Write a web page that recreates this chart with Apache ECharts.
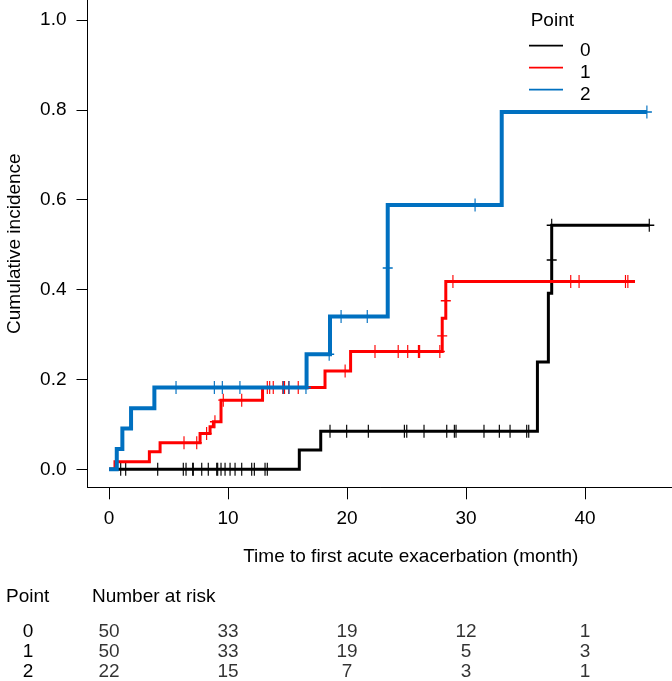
<!DOCTYPE html>
<html>
<head>
<meta charset="utf-8">
<script src="https://cdn.jsdelivr.net/npm/echarts@6/dist/echarts.min.js"></script>
<style>html,body{margin:0;padding:0;background:#fff}#c{width:672px;height:681px}</style>
</head>
<body>
<div id="c"></div>
<script>
// ---- data ----
const groupNames = ['0', '1', '2'];
const xTicks = [0, 10, 20, 30, 40];
const yTicks = [0, 0.2, 0.4, 0.6, 0.8, 1.0];

const steps0 = [[0,0],[15.99,0.043],[17.79,0.085],[36.0,0.239],[36.92,0.392],[37.2,0.543],[45.4,0.543]];
const steps1 = [[0,0],[0.5,0.017],[3.39,0.039],[4.29,0.059],[7.65,0.080],[8.49,0.095],[8.77,0.106],[9.41,0.154],[12.9,0.182],[18.15,0.219],[20.3,0.262],[28.0,0.336],[28.3,0.418],[44.2,0.418]];
const steps2 = [[0,0],[0.65,0.045],[1.12,0.091],[1.85,0.136],[3.81,0.182],[16.6,0.256],[18.57,0.340],[23.42,0.588],[33.0,0.795],[45.2,0.795]];

const cens0 = [[0.98,0],[1.40,0],[4.09,0],[6.24,0],[6.47,0],[7.03,0],[7.08,0],[7.79,0],[8.34,0],[9.05,0],[9.13,0],[9.41,0],[9.75,0],[10.17,0],[10.59,0],[11.15,0],[11.99,0],[12.21,0],[13.11,0],[13.30,0],
  [18.57,0.085],[19.97,0.085],[21.79,0.085],[24.82,0.085],[25.02,0.085],[26.47,0.085],[28.38,0.085],[29.02,0.085],[29.16,0.085],[31.51,0.085],[32.8,0.085],[33.7,0.085],[35.1,0.085],[35.27,0.085],
  [37.2,0.466],[37.2,0.543],[45.4,0.543]];
const cens1 = [[6.3,0.059],[7.37,0.059],[8.2,0.080],[8.9,0.106],[9.6,0.154],[11.15,0.154],[13.3,0.182],[13.5,0.182],[13.8,0.182],[14.6,0.182],[14.75,0.182],[15.1,0.182],[15.9,0.182],[19.84,0.219],
  [22.35,0.262],[24.3,0.262],[25.1,0.262],[26.0,0.262],[26.1,0.262],[27.8,0.262],[28.0,0.297],[28.3,0.375],[28.9,0.418],[38.8,0.418],[39.5,0.418],[43.4,0.418],[43.6,0.418]];
const cens2 = [[5.63,0.182],[8.85,0.182],[9.52,0.182],[11.0,0.182],[14.65,0.182],[15.13,0.182],[16.55,0.182],[18.5,0.256],[19.5,0.340],[21.7,0.340],[23.42,0.448],[30.76,0.588],[45.2,0.795]];

const riskTimes = [0, 10, 20, 30, 40];
const risk0 = [50, 33, 19, 12, 1];
const risk1 = [50, 33, 19, 5, 3];
const risk2 = [22, 15, 7, 3, 1];

// ---- styles ----
const FONT = '"Liberation Sans", Arial, Helvetica, sans-serif';
const FS = 19;
const colors = ['#000000', '#FF0000', '#0070C0'];
const widths = [3, 3, 4];
const allSteps = [steps0, steps1, steps2];
const allCens = [cens0, cens1, cens2];
const allRisk = [risk0, risk1, risk2];
const legendIcon = 'path://M0,0h0.01v0.01h-0.01zM0,5.1h34v1.8h-34zM33.99,21.99h0.01v0.01h-0.01z';

const series = [];
for (let g = 0; g < 3; g++) {
  series.push({
    name: groupNames[g], type: 'line', step: 'end', xAxisIndex: 0, yAxisIndex: 0,
    data: allSteps[g], symbol: 'none', showSymbol: false, animation: false,
    lineStyle: { color: colors[g], width: widths[g], cap: 'butt', join: 'miter' },
    itemStyle: { color: colors[g] }, z: 2 + g * 2, silent: true
  });
  series.push({
    name: 'cens' + g, type: 'scatter', xAxisIndex: 0, yAxisIndex: 0,
    data: allCens[g], symbol: 'path://M0,6L10,6M5,0L5,12', symbolSize: [10, 13],
    itemStyle: { color: 'rgba(0,0,0,0)', borderColor: colors[g], borderWidth: 1.3, opacity: 1 },
    z: 3 + g * 2, animation: false, silent: true
  });
}
// risk table numbers positioned by the x scale of the table grid
const riskData = [];
for (let g = 0; g < 3; g++) {
  for (let i = 0; i < riskTimes.length; i++) riskData.push([riskTimes[i], groupNames[g], allRisk[g][i]]);
}
series.push({
  name: 'risk', type: 'scatter', xAxisIndex: 1, yAxisIndex: 1, data: riskData,
  symbolSize: 0, animation: false, silent: true,
  label: { show: true, position: 'inside', formatter: p => String(p.value[2]),
    color: '#000', fontFamily: FONT, fontSize: FS }
});

const chart = echarts.init(document.getElementById('c'), null, { renderer: 'canvas' });
chart.setOption({
  backgroundColor: '#fff',
  animation: false,
  grid: [
    { left: 87.5, top: 0, width: 646.5, height: 487.3, containLabel: false, outerBoundsMode: 'none' },
    { left: 87.5, top: 622, width: 646.5, height: 60, containLabel: false, outerBoundsMode: 'none' }
  ],
  xAxis: [
    { type: 'value', gridIndex: 0, min: -1.81, max: 52.52,
      name: 'Time to first acute exacerbation (month)', nameLocation: 'middle', nameGap: 60,
      nameTextStyle: { color: '#000', fontFamily: FONT, fontSize: FS },
      axisLine: { show: true, onZero: false, lineStyle: { color: '#000', width: 1 } },
      axisTick: { show: true, length: 12, customValues: xTicks, lineStyle: { color: '#000', width: 1 } },
      axisLabel: { show: true, customValues: xTicks, margin: 22, color: '#000', fontFamily: FONT, fontSize: FS },
      splitLine: { show: false } },
    { type: 'value', gridIndex: 1, min: -1.81, max: 52.52, show: false }
  ],
  yAxis: [
    { type: 'value', gridIndex: 0, min: -0.04, max: 1.0445,
      name: 'Cumulative incidence', nameLocation: 'middle', nameGap: 63, nameRotate: 90,
      nameTextStyle: { color: '#000', fontFamily: FONT, fontSize: FS },
      axisLine: { show: true, onZero: false, lineStyle: { color: '#000', width: 1 } },
      axisTick: { show: true, length: 11, customValues: yTicks, lineStyle: { color: '#000', width: 1 } },
      axisLabel: { show: true, customValues: yTicks, margin: 21, formatter: v => v.toFixed(1),
        color: '#000', fontFamily: FONT, fontSize: FS },
      splitLine: { show: false } },
    { type: 'category', gridIndex: 1, data: groupNames, inverse: true,
      axisLine: { show: false }, axisTick: { show: false }, splitLine: { show: false },
      axisLabel: { show: true, interval: 0, align: 'center', margin: 59.5, color: '#000', fontFamily: FONT, fontSize: FS } }
  ],
  legend: {
    data: groupNames.map(n => ({ name: n, icon: legendIcon })), orient: 'vertical', left: 529, top: 39.7, padding: 0,
    itemWidth: 34, itemHeight: 22, itemGap: 0, selectedMode: false,
    textStyle: { color: '#000', fontFamily: FONT, fontSize: FS, padding: [0, 0, 0, 12] }
  },
  graphic: [
    { type: 'text', left: 530.7, top: 11, silent: true,
      style: { text: 'Point', fill: '#000', font: FS + 'px ' + FONT } },
    { type: 'text', left: 6, top: 587, silent: true,
      style: { text: 'Point', fill: '#000', font: FS + 'px ' + FONT } },
    { type: 'text', left: 92, top: 587, silent: true,
      style: { text: 'Number at risk', fill: '#000', font: FS + 'px ' + FONT } }
  ],
  series: series
});
</script>
</body>
</html>
